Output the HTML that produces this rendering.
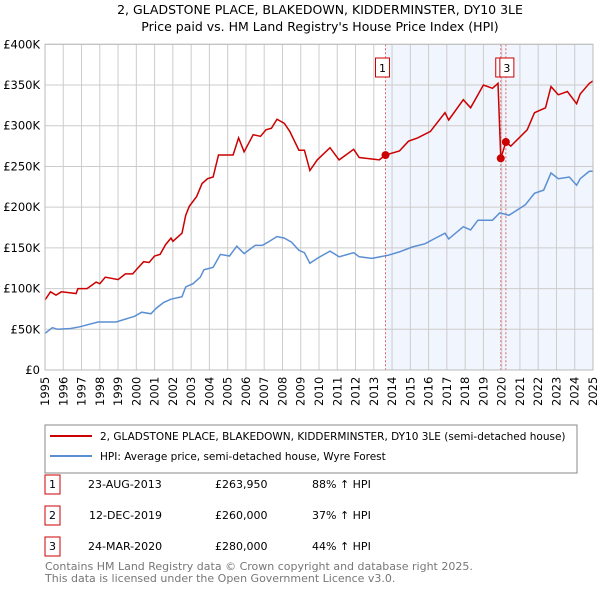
<!DOCTYPE html>
<html><head><meta charset="utf-8"><style>
body{margin:0;background:#fff;font-family:"Liberation Sans","DejaVu Sans",sans-serif;}
svg{display:block}
</style></head><body>
<svg id="c" width="600" height="590" xmlns="http://www.w3.org/2000/svg" font-family="DejaVu Sans, Liberation Sans, sans-serif">
<text x="320" y="14" text-anchor="middle" font-size="12.5">2, GLADSTONE PLACE, BLAKEDOWN, KIDDERMINSTER, DY10 3LE</text>
<text x="320" y="31" text-anchor="middle" font-size="12.5">Price paid vs. HM Land Registry's House Price Index (HPI)</text>
<g id="grid"></g><g id="marks"></g><g id="axes"></g>
<rect x="45" y="425" width="532" height="48" fill="#fff" stroke="#888"/>
<line x1="50" y1="436" x2="92" y2="436" stroke="#cc0000" stroke-width="2"/>
<text x="100" y="440" font-size="10.5">2, GLADSTONE PLACE, BLAKEDOWN, KIDDERMINSTER, DY10 3LE (semi-detached house)</text>
<line x1="50" y1="456" x2="92" y2="456" stroke="#5b8fd4" stroke-width="2"/>
<text x="100" y="460" font-size="10.5">HPI: Average price, semi-detached house, Wyre Forest</text>
<g font-size="11">
<rect x="45" y="475" width="15" height="19" fill="#fff" stroke="#cc0000"/><text x="52.5" y="488" text-anchor="middle">1</text>
<text x="88" y="488">23-AUG-2013</text><text x="215" y="488">£263,950</text><text x="312" y="488">88% ↑ HPI</text>
<rect x="45" y="506" width="15" height="19" fill="#fff" stroke="#cc0000"/><text x="52.5" y="519" text-anchor="middle">2</text>
<text x="89" y="519">12-DEC-2019</text><text x="215" y="519">£260,000</text><text x="312" y="519">37% ↑ HPI</text>
<rect x="45" y="537" width="15" height="19" fill="#fff" stroke="#cc0000"/><text x="52.5" y="550" text-anchor="middle">3</text>
<text x="88" y="550">24-MAR-2020</text><text x="215" y="550">£280,000</text><text x="312" y="550">44% ↑ HPI</text>
</g>
<text x="45" y="570" font-size="11" fill="#777">Contains HM Land Registry data © Crown copyright and database right 2025.</text>
<text x="45" y="582" font-size="11" fill="#777">This data is licensed under the Open Government Licence v3.0.</text>
</svg>
<script>
const yTicks=[0,50,100,150,200,250,300,350,400];
const yTickLabels=["£0","£50K","£100K","£150K","£200K","£250K","£300K","£350K","£400K"];
const years=[1995,1996,1997,1998,1999,2000,2001,2002,2003,2004,2005,2006,2007,2008,2009,2010,2011,2012,2013,2014,2015,2016,2017,2018,2019,2020,2021,2022,2023,2024,2025];
const hpiT=[1995.0,1995.4,1995.7,1996.4,1996.9,1997.9,1998.9,1999.9,2000.3,2000.8,2001.1,2001.5,2001.9,2002.5,2002.7,2003.1,2003.5,2003.7,2004.2,2004.6,2005.1,2005.5,2005.9,2006.5,2006.9,2007.2,2007.7,2008.1,2008.5,2008.9,2009.2,2009.5,2009.9,2010.6,2011.1,2011.9,2012.2,2012.9,2013.8,2014.4,2015.1,2015.8,2016.3,2016.9,2017.1,2017.9,2018.3,2018.7,2019.5,2019.9,2020.4,2021.3,2021.8,2022.3,2022.7,2023.1,2023.7,2024.1,2024.3,2024.8,2025.0];
const hpiV=[45,52,50,51,53,59,59,66,71,69,76,83,87,90,102,106,114,123,126,142,140,152,143,153,153,157,164,162,157,147,144,131,137,146,139,144,139,137,141,145,151,155,161,168,161,176,172,184,184,193,190,203,217,221,242,235,237,227,235,244,244];
const priceT=[1995.0,1995.3,1995.6,1995.9,1996.7,1996.8,1997.3,1997.8,1998.0,1998.3,1999.0,1999.4,1999.8,2000.0,2000.4,2000.7,2001.0,2001.3,2001.6,2001.9,2002.0,2002.5,2002.7,2002.9,2003.3,2003.6,2003.9,2004.2,2004.5,2004.9,2005.3,2005.6,2005.9,2006.4,2006.8,2007.1,2007.4,2007.7,2008.1,2008.4,2008.9,2009.2,2009.5,2009.9,2010.6,2011.1,2011.9,2012.2,2013.3,2013.64,2014.4,2014.9,2015.4,2016.1,2016.9,2017.1,2017.9,2018.3,2019.0,2019.5,2019.8,2019.95,2020.23,2020.5,2021.4,2021.8,2022.4,2022.7,2023.1,2023.6,2024.1,2024.3,2024.8,2025.0];
const priceV=[86,96,92,96,94,100,100,108,106,114,111,118,118,123,133,132,140,142,154,162,158,168,190,201,213,229,235,237,264,264,264,285,268,289,287,295,297,308,303,293,270,270,245,258,273,258,271,261,258,264,269,281,285,293,316,307,332,322,350,346,352,260,280,275,295,316,322,348,338,342,327,339,352,355];
const saleT=[2013.64,2019.95,2020.23];
const saleV=[263.95,260,280];
const saleLabels=["1","2","3"];
const X0=45,X1=593,Y0=370,Y1=44.3;
const xs=t=>X0+(t-1995)/30*(X1-X0);
const ys=v=>Y0-v/400*(Y0-Y1);
const NS="http://www.w3.org/2000/svg";
function mk(tag,attrs,parent,txt){const e=document.createElementNS(NS,tag);for(const k in attrs)e.setAttribute(k,attrs[k]);if(txt!==undefined)e.textContent=txt;parent.appendChild(e);return e;}
const grid=document.getElementById('grid'),marks=document.getElementById('marks'),axes=document.getElementById('axes');
const sh=mk('rect',{x:xs(saleT[0]),y:Y1,width:X1-xs(saleT[0]),height:Y0-Y1,fill:'#eef3fc',opacity:0.8},grid);


years.forEach(y=>{const l=mk('line',{x1:xs(y),x2:xs(y),y1:Y1,y2:Y0,stroke:'#ccc'},grid);


const t=mk('text',{x:0,y:0,'font-size':11.5,transform:`translate(${xs(y)+4},${Y0+36}) rotate(-90)`},axes,String(y));

});
yTicks.forEach((v,i)=>{const l=mk('line',{x1:X0,x2:X1,y1:ys(v),y2:ys(v),stroke:'#ccc'},grid);


const t=mk('text',{x:X0-5,y:ys(v)+4,'font-size':11.5,'text-anchor':'end'},axes,yTickLabels[i]);

});
const pts=(T,V)=>T.map((t,i)=>xs(t).toFixed(1)+','+ys(V[i]).toFixed(1)).join(' ');
saleT.forEach((t,i)=>{const l=mk('line',{x1:xs(t),x2:xs(t),y1:Y1,y2:Y0,stroke:'#e06666','stroke-dasharray':'2,2'},marks);

});
const hp=mk('polyline',{points:pts(hpiT,hpiV),fill:'none',stroke:'#5b8fd4','stroke-width':1.5},marks);


const pp=mk('polyline',{points:pts(priceT,priceV),fill:'none',stroke:'#cc0000','stroke-width':1.5},marks);


const offs=[-3,2,1];
saleT.forEach((t,i)=>{const c=mk('circle',{cx:xs(t),cy:ys(saleV[i]),r:4,fill:'#cc0000'},marks);


const bx=xs(t)+offs[i];
const r=mk('rect',{x:bx-7,y:58,width:14,height:19,fill:'#fff',stroke:'#cc0000'},marks);


const tx=mk('text',{x:bx,y:72,'font-size':11,'text-anchor':'middle'},marks,saleLabels[i]);

});
const b=mk('rect',{x:X0,y:Y1,width:X1-X0,height:Y0-Y1,fill:'none',stroke:'#bbb'},axes);


</script>
</body></html>
